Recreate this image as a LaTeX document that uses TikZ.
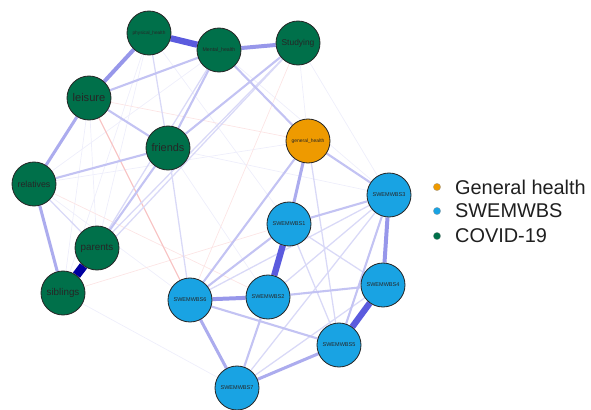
\documentclass[tikz,border=0pt]{standalone}
\usepackage{fontspec}
\setmainfont{Liberation Sans}
\usepackage{graphicx}
\usetikzlibrary{backgrounds}
\definecolor{nwgreen}{HTML}{00704A}
\definecolor{nworange}{HTML}{EE9A00}
\definecolor{nwblue}{HTML}{19A3E3}
\definecolor{edgeblue}{HTML}{5252DC}
\definecolor{edgenavy}{HTML}{0000A0}
\definecolor{edgered}{HTML}{F08080}
\newcommand{\fitlabel}[1]{\resizebox{28pt}{!}{#1}}

\tikzset{
  varnode/.style={circle, draw=black!85, line width=0.7pt, minimum size=1.32cm, inner sep=0pt, text=black!85},
  covid/.style={varnode, fill=nwgreen},
  genhealth/.style={varnode, fill=nworange},
  swem/.style={varnode, fill=nwblue},
  ea/.style={edgeblue!10, line width=0.6pt},
  eb/.style={edgeblue!22, line width=1.1pt},
  ec/.style={edgeblue!35, line width=1.8pt},
  ed/.style={edgeblue!48, line width=2.6pt},
  ee/.style={edgeblue!60, line width=3.4pt},
  ef/.style={edgeblue!95, line width=5.4pt},
  ra/.style={edgered!20, line width=0.6pt},
  rb/.style={edgered!45, line width=1pt},
  legdot/.style={circle, draw=black!40, line width=0.2pt, inner sep=0pt, minimum size=0.22cm},
  legtext/.style={right, font=\fontsize{17}{19}\selectfont, text=black!88}
}

\begin{document}
\begin{tikzpicture}[x=0.03cm, y=-0.03cm]
  \useasboundingbox (0,0) rectangle (591,409);

  % COVID-19 items
  \node[covid] (phys) at (149,33) {\fitlabel{physical\_health}};
  \node[covid] (ment) at (219,50) {\fitlabel{Mental\_health}};
  \node[covid] (stud) at (298,43) {\fitlabel{Studying}};
  \node[covid] (leis) at (89,98) {\fitlabel{leisure}};
  \node[covid] (frie) at (168,148) {\fitlabel{friends}};
  \node[covid] (rela) at (34,184) {\fitlabel{relatives}};
  \node[covid] (pare) at (97,248) {\fitlabel{parents}};
  \node[covid] (sibl) at (63,293) {\fitlabel{siblings}};

  % General health
  \node[genhealth] (gh) at (308,141) {\fitlabel{general\_health}};

  % SWEMWBS items
  \node[swem] (s1) at (289,224) {\fitlabel{SWEMWBS1}};
  \node[swem] (s2) at (268,297) {\fitlabel{SWEMWBS2}};
  \node[swem] (s3) at (389,195) {\fitlabel{SWEMWBS3}};
  \node[swem] (s4) at (383,285) {\fitlabel{SWEMWBS4}};
  \node[swem] (s5) at (339,345) {\fitlabel{SWEMWBS5}};
  \node[swem] (s6) at (190,300) {\fitlabel{SWEMWBS6}};
  \node[swem] (s7) at (237,388) {\fitlabel{SWEMWBS7}};

  % Edges
  \begin{scope}[on background layer]
    % faint
    \draw[ea] (rela) -- (ment);
    \draw[ea] (phys) -- (pare);
    \draw[ea] (phys) -- (sibl);
    \draw[ea] (leis) -- (pare);
    \draw[ea] (leis) -- (sibl);
    \draw[ea] (stud) -- (gh);
    \draw[ea] (stud) -- (s3);
    \draw[ea] (ment) -- (s3);
    \draw[ea] (frie) -- (s2);
    \draw[ea] (rela) -- (s6);
    \draw[ea] (sibl) -- (s7);
    \draw[ea] (rela) -- (gh);
    \draw[ea] (phys) -- (s1);
    \draw[ea] (frie) -- (s3);
    \draw[ra] (leis) -- (gh);
    \draw[ra] (sibl) -- (s1);
    \draw[ra] (stud) -- (s6);
    \draw[ra] (rela) -- (s2);
    \draw[rb] (leis) -- (s6);
    % weak
    \draw[eb] (rela) -- (pare);
    \draw[eb] (phys) -- (frie);
    \draw[eb] (ment) -- (pare);
    \draw[eb] (stud) -- (pare);
    \draw[eb] (stud) -- (sibl);
    \draw[eb] (frie) -- (s6);
    \draw[eb] (s7) -- (s4);
    \draw[eb] (s7) -- (s3);
    \draw[eb] (s1) -- (s5);
    \draw[eb] (s6) -- (s3);
    \draw[eb] (s1) -- (s4);
    \draw[eb] (gh) -- (s5);
    \draw[eb] (s2) -- (s3);
    % medium
    \draw[ec] (ment) -- (gh);
    \draw[ec] (leis) -- (ment);
    \draw[ec] (leis) -- (frie);
    \draw[ec] (rela) -- (frie);
    \draw[ec] (frie) -- (ment);
    \draw[ec] (frie) -- (stud);
    \draw[ec] (pare) -- (frie);
    \draw[ec] (s6) -- (gh);
    \draw[ec] (s6) -- (s5);
    \draw[ec] (s2) -- (s7);
    \draw[ec] (s3) -- (s5);
    \draw[ec] (gh) -- (s3);
    \draw[ec] (s1) -- (s3);
    \draw[ec] (s2) -- (s4);
    \draw[ec] (s6) -- (s1);
    % strong
    \draw[ed] (leis) -- (rela);
    \draw[ed] (rela) -- (sibl);
    \draw[ed] (s6) -- (s7);
    \draw[ed] (s7) -- (s5);
    \draw[ed] (gh) -- (s1);
    \draw[ee] (s6) -- (s2);
    \draw[ee] (phys) -- (leis);
    \draw[ee] (ment) -- (stud);
    \draw[ee] (s3) -- (s4);
    \draw[ef] (phys) -- (ment);
    \draw[ef] (s1) -- (s2);
    \draw[ef] (s4) -- (s5);
    \draw[edgenavy, line width=7.5pt] (pare) -- (sibl);
  \end{scope}

  % Legend
  \node[legdot, fill=nworange] (dgh) at (437,187) {};
  \node[legdot, fill=nwblue] (dsw) at (437,211) {};
  \node[legdot, fill=nwgreen] (dcv) at (437,236) {};
  \node[legtext] (lgh) at (451,187) {General health};
  \node[legtext] (lsw) at (451,211) {SWEMWBS};
  \node[legtext] (lcv) at (451,236) {COVID-19};
\end{tikzpicture}
\end{document}
